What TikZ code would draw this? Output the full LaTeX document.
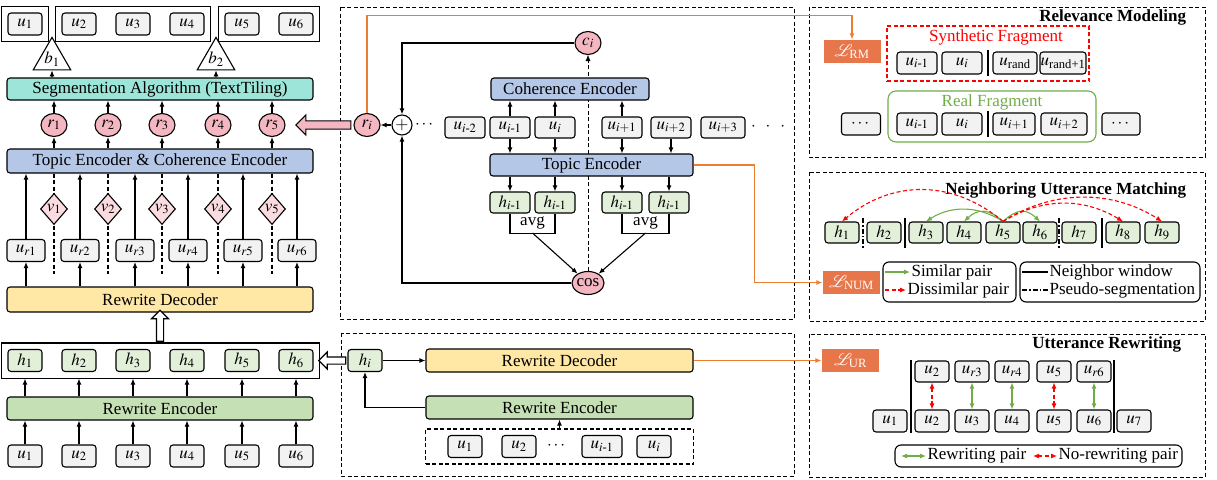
\documentclass[tikz,border=0pt]{standalone}
\usepackage{amsmath}
\usepackage{mathptmx}
\usepackage{fontspec}
\setmainfont{Liberation Serif}
\usetikzlibrary{arrows.meta,shapes.geometric,shapes.arrows,fit,backgrounds}

\definecolor{ugray}{HTML}{F2F2F2}
\definecolor{hgreen}{HTML}{E2F0D9}
\definecolor{encgreen}{HTML}{C5E0B4}
\definecolor{tblue}{HTML}{B4C7E7}
\definecolor{dyellow}{HTML}{FFE7A6}
\definecolor{segteal}{HTML}{9DE5D8}
\definecolor{rpink}{HTML}{F4B6C0}
\definecolor{vpink}{HTML}{FADBDF}
\definecolor{lossorg}{HTML}{E8764B}
\definecolor{lineorg}{HTML}{ED7D31}
\definecolor{simgreen}{HTML}{70AD47}

\tikzset{
  dashed/.style={dash pattern=on 4pt off 2.5pt},
  dashdotted/.style={dash pattern=on 5pt off 2pt on 1.5pt off 2pt},
  ubox/.style={draw, rounded corners=3pt, fill=ugray, minimum width=34pt, minimum height=22pt, inner sep=1pt},
  hbox/.style={ubox, fill=hgreen},
  block/.style={draw, rounded corners=3pt, minimum height=23pt, inner sep=1pt},
  rcirc/.style={draw, ellipse, fill=rpink, minimum width=26pt, minimum height=23pt, inner sep=0pt},
  vdia/.style={draw, diamond, fill=vpink, minimum width=27pt, minimum height=31pt, inner sep=0pt},
  btri/.style={draw, regular polygon, regular polygon sides=3, minimum size=36pt, inner sep=0pt, fill=white},
  lossbox/.style={fill=lossorg, text=white, minimum width=57pt, minimum height=23pt, inner sep=0pt},
  grp/.style={draw, inner sep=6pt},
  panel/.style={draw, dashed, line width=1pt},
  legbox/.style={draw, rounded corners=6pt, inner sep=0pt},
  oline/.style={lineorg, line width=1.3pt},
  simarr/.style={simgreen, ->},
  disarr/.style={red, dashed, ->},
  fatarrow/.style={draw, single arrow, inner sep=3pt, single arrow head extend=5pt},
  title/.style={anchor=east, font=\fontsize{17}{19}\selectfont\bfseries},
}

\begin{document}
\begin{tikzpicture}[x=1pt, y=-1pt, line width=1.1pt, >={Latex[length=6pt,width=5pt]}, font=\fontsize{17}{19}\selectfont]
\useasboundingbox (0,0) rectangle (1217,479);

% left: whole pipeline
\foreach \i/\x in {1/25,2/79,3/133,4/187,5/242,6/296}
  \node[ubox] (s\i) at (\x,24) {$u_\i$};
\node[grp, fit=(s1)] (g1) {};
\node[grp, fit=(s2)(s4)] (g2) {};
\node[grp, fit=(s5)(s6)] (g3) {};
\node[btri] (b1) at (52,59) {$b_1$};
\node[btri] (b2) at (216,59) {$b_2$};
\node[block, fill=segteal, minimum width=306pt, minimum height=22pt] (seg) at (160,89) {Segmentation Algorithm (TextTiling)};
\draw[->] (seg.north -| b1) -- (b1.south);
\draw[->] (seg.north -| b2) -- (b2.south);

\node[block, fill=tblue, minimum width=306pt, minimum height=24pt] (te) at (160,161) {Topic Encoder \& Coherence Encoder};
\foreach \i/\x in {1/54,2/108,3/162,4/218,5/272}{
  \node[rcirc] (r\i) at (\x,125) {$r_\i$};
  \draw[->] (te.north -| r\i) -- (r\i.south);
  \draw[->] (r\i.north) -- (r\i |- seg.south);
  \draw[dashed] (te.south -| r\i) -- ++(0,100);
  \node[vdia] (v\i) at (\x,209) {$v_\i$};
}

\node[block, fill=dyellow, minimum width=306pt, minimum height=25pt] (rd) at (160,299.5) {Rewrite Decoder};
\foreach \i/\x in {1/26,2/80,3/135,4/188,5/243,6/297}{
  \node[ubox, minimum width=38pt] (ur\i) at (\x,250.5) {$u_{r\i}$};
  \draw[->] (ur\i.north) -- (ur\i |- te.south);
  \draw[->] (rd.north -| ur\i) -- (ur\i.south);
}

\foreach \i/\x in {1/25,2/79,3/133,4/187,5/242,6/296}
  \node[hbox] (h\i) at (\x,360.5) {$h_\i$};
\node[grp, fit=(h1)(h6)] (hall) {};
\node[block, fill=encgreen, minimum width=306pt] (re) at (160,408.5) {Rewrite Encoder};
\foreach \i/\x in {1/25,2/79,3/133,4/187,5/242,6/296}{
  \node[ubox] (u\i) at (\x,456) {$u_\i$};
  \draw[->] (u\i.north) -- (u\i |- re.south);
  \draw[->] (re.north -| h\i) -- (h\i |- hall.south);
}
\node[fatarrow, fill=white, shape border rotate=90, minimum height=31pt, minimum width=16pt] (up) at (160,327.5) {};

% middle top: topic / coherence
\draw[panel] (340,7) rectangle (794,319);
\node[rcirc] (ri) at (367,125) {$r_i$};
\node[draw, circle, fill=white, minimum size=20pt, inner sep=0pt] (plus) at (402,125) {$+$};
\node (cdots) at (425,125) {$\cdots$};
\node[rcirc] (ci) at (588,43) {$c_i$};
\node[rcirc] (cos) at (588,283) {cos};
\begin{scope}[on background layer]
  \draw[dashed, ->] (cos.north) -- (ci.south);
\end{scope}
\node[block, fill=tblue, minimum width=158pt, minimum height=22pt] (ce) at (570,89) {Coherence Encoder};
\node[ubox, minimum width=40pt, minimum height=21pt] (cu1) at (465,127.5) {$u_{i\text{-}2}$};
\node[ubox, minimum width=40pt, minimum height=21pt] (cu2) at (510,127.5) {$u_{i\text{-}1}$};
\node[ubox, minimum width=40pt, minimum height=21pt] (cu3) at (555,127.5) {$u_i$};
\node[ubox, minimum width=40pt, minimum height=21pt] (cu4) at (622,127.5) {$u_{i+1}$};
\node[ubox, minimum width=40pt, minimum height=21pt] (cu5) at (671,127.5) {$u_{i+2}$};
\node[ubox, minimum width=44pt, minimum height=21pt] (cu6) at (723,127.5) {$u_{i+3}$};
\node (cdots2) at (768,127) {$\cdot\;\;\cdot\;\;\cdot$};
\node[block, fill=tblue, minimum width=203pt, minimum height=22pt] (tenc) at (591.5,165) {Topic Encoder};
\foreach \n in {cu2,cu3,cu4}
  \draw[->] (\n.north) -- (\n |- ce.south);
\foreach \n in {cu2,cu3,cu4,cu5}
  \draw[->] (\n.south) -- (\n |- tenc.north);
\foreach \n/\x in {ch1/510,ch2/555,ch3/622,ch4/669}{
  \node[hbox, minimum width=40pt, minimum height=21pt] (\n) at (\x,202.5) {$h_{i\text{-}1}$};
  \draw[->] (\n |- tenc.south) -- (\n.north);
}
\draw (ch1.south) -- ++(0,20) -| (ch2.south);
\draw (ch3.south) -- ++(0,20) -| (ch4.south);
\node (avg1) at (532.5,223) {avg};
\node (avg2) at (645.5,223) {avg};
\coordinate (a1) at (532.5,233);
\coordinate (a2) at (645.5,233);
\draw[->] (a1) -- (cos);
\draw[->] (a2) -- (cos);
\draw[->] (ci.west) -| (plus.north);
\draw[->] (cos.west) -| (plus.south);
\draw[->] (plus.west) -- (ri.east);
\node[fatarrow, fill=rpink, shape border rotate=180, minimum height=55pt, minimum width=20pt] (back) at (325.5,125) {};

% middle bottom: rewriting
\draw[panel] (341,333) rectangle (794,476);
\node[hbox] (hi) at (365,360.5) {$h_i$};
\node[block, fill=dyellow, minimum width=267pt] (rd2) at (559.5,360.5) {Rewrite Decoder};
\node[block, fill=encgreen, minimum width=267pt] (re2) at (559.5,407.5) {Rewrite Encoder};
\node[draw, dashed, minimum width=268pt, minimum height=35pt] (ctx) at (559.5,446.5) {};
\node[ubox] (bu1) at (465,446.5) {$u_1$};
\node[ubox] (bu2) at (519,446.5) {$u_2$};
\node (bdots) at (557,446) {$\cdots$};
\node[ubox, minimum width=40pt] (bu3) at (602,446.5) {$u_{i\text{-}1}$};
\node[ubox] (bu4) at (654,446.5) {$u_i$};
\draw[->] (hi.east) -- (rd2.west);
\draw[->] (re2.west) -| (hi.south);
\draw[dashed, ->] (ctx.north) -- (re2.south);
\node[fatarrow, fill=white, shape border rotate=180, minimum height=27pt, minimum width=16pt] (left) at (334,360.5) {};

% right top: relevance modeling
\draw[panel] (809,7) rectangle (1205,157);
\node[title] at (1190,17) {Relevance Modeling};
\node[lossbox] (lrm) at (852,51.5) {$\mathcal{L}_{\text{RM}}$};
\draw[oline, ->] (ri.north) |- ([yshift=24pt]lrm.north) -- (lrm.north);
\node[draw, red, dashed, minimum width=202pt, minimum height=55pt] (synth) at (988,53.5) {};
\node[red] at (996,37) {Synthetic Fragment};
\node[ubox, minimum width=40pt] (sf1) at (917,63) {$u_{i\text{-}1}$};
\node[ubox, minimum width=40pt] (sf2) at (962,63) {$u_i$};
\node[ubox, minimum width=44pt] (sf3) at (1015,63) {$u_{\text{rand}}$};
\node[ubox, minimum width=46pt, inner sep=0pt] (sf4) at (1063,63) {$u_{\text{rand+1}}$};
\draw (988,50) -- (988,76);
\node[draw, simgreen, rounded corners=8pt, minimum width=208pt, minimum height=51pt] (real) at (992,116.5) {};
\node[simgreen] at (992,102) {Real Fragment};
\node[ubox, minimum width=39pt] (rf0) at (861,124) {$\cdots$};
\node[ubox, minimum width=40pt] (rf1) at (917,124) {$u_{i\text{-}1}$};
\node[ubox, minimum width=40pt] (rf2) at (962,124) {$u_i$};
\node[ubox, minimum width=42pt] (rf3) at (1014,124) {$u_{i+1}$};
\node[ubox, minimum width=46pt] (rf4) at (1064,124) {$u_{i+2}$};
\node[ubox, minimum width=38pt] (rf5) at (1121,124) {$\cdots$};
\draw (988,111) -- (988,137);

% right middle: neighboring utterance matching
\draw[panel] (809,172) rectangle (1205,321);
\node[title] at (1190,190) {Neighboring Utterance Matching};
\foreach \i/\x in {1/842,2/884,3/926,4/964,5/1003,6/1040,7/1079,8/1123,9/1162}
  \node[hbox, minimum height=21pt] (n\i) at (\x,232.5) {$h_\i$};
\draw[dashdotted] (863,218) -- (863,248);
\draw (905,218) -- (905,248);
\draw[dashdotted] (1059,218) -- (1059,248);
\draw (1102,218) -- (1102,248);
\draw[simarr] (n5.north) .. controls +(-25,-16) and +(25,-16) .. (n3.north);
\draw[simarr] (n5.north) .. controls +(-14,-13) and +(14,-13) .. (n4.north);
\draw[simarr] (n5.north) .. controls +(14,-13) and +(-14,-13) .. (n6.north);
\draw[disarr] (n5.north) .. controls +(-50,-42) and +(50,-42) .. (n1.north);
\draw[disarr] (n5.north) .. controls +(40,-24) and +(-40,-24) .. (n8.north);
\draw[disarr] (n5.north) .. controls +(50,-32) and +(-50,-32) .. (n9.north);
\node[lossbox] (lnum) at (851.5,282.5) {$\mathcal{L}_{\text{NUM}}$};
\draw[oline, ->] (tenc.east) -- ++(61,0) |- (lnum.west);
\node[legbox, minimum width=133pt, minimum height=40pt] (leg1) at (949.5,282) {};
\node[anchor=west, inner sep=1pt] (simtxt) at (910,272) {Similar pair};
\node[anchor=west, inner sep=1pt] (distxt) at (906,290) {Dissimilar pair};
\draw[simarr] ([xshift=-25pt]simtxt.west) -- (simtxt.west);
\draw[disarr] ([xshift=-21pt]distxt.west) -- (distxt.west);
\node[legbox, minimum width=180pt, minimum height=40pt] (leg2) at (1110,282) {};
\node[anchor=west, inner sep=1pt] (nwtxt) at (1048,272) {Neighbor window};
\node[anchor=west, inner sep=1pt] (pstxt) at (1048,290) {Pseudo-segmentation};
\draw ([xshift=-26pt]nwtxt.west) -- (nwtxt.west);
\draw[dashdotted] ([xshift=-26pt]pstxt.west) -- (pstxt.west);

% right bottom: utterance rewriting
\draw[panel] (809,334) rectangle (1205,477);
\node[title] at (1185,344) {Utterance Rewriting};
\node[lossbox] (lur) at (850.5,360.5) {$\mathcal{L}_{\text{UR}}$};
\draw[oline, ->] (rd2.east) -- (lur.west);
\foreach \i/\x/\t in {2/932/u_2,3/972/u_{r3},4/1012/u_{r4},5/1054/u_5,6/1094/u_{r6}}
  \node[ubox, minimum height=21pt] (t\i) at (\x,371.5) {$\t$};
\foreach \i/\x in {1/890,2/932,3/972,4/1012,5/1054,6/1094,7/1134}
  \node[ubox] (o\i) at (\x,421) {$u_\i$};
\draw (911,360) -- (911,433);
\draw (1114,360) -- (1114,433);
\foreach \i in {3,4,6}
  \draw[simgreen, <->] (t\i.south) -- (o\i.north);
\foreach \i in {2,5}
  \draw[red, dashed, <->] (t\i.south) -- (o\i.north);
\node[legbox, minimum width=287pt, minimum height=22pt] (leg3) at (1038.5,456) {};
\node[anchor=west, inner sep=1pt] (rwtxt) at (926,456) {Rewriting pair};
\node[anchor=west, inner sep=1pt] (nrtxt) at (1057,456) {No-rewriting pair};
\draw[simgreen, <->] ([xshift=-25pt]rwtxt.west) -- (rwtxt.west);
\draw[red, dashed, <->] ([xshift=-24pt]nrtxt.west) -- (nrtxt.west);
\end{tikzpicture}
\end{document}
